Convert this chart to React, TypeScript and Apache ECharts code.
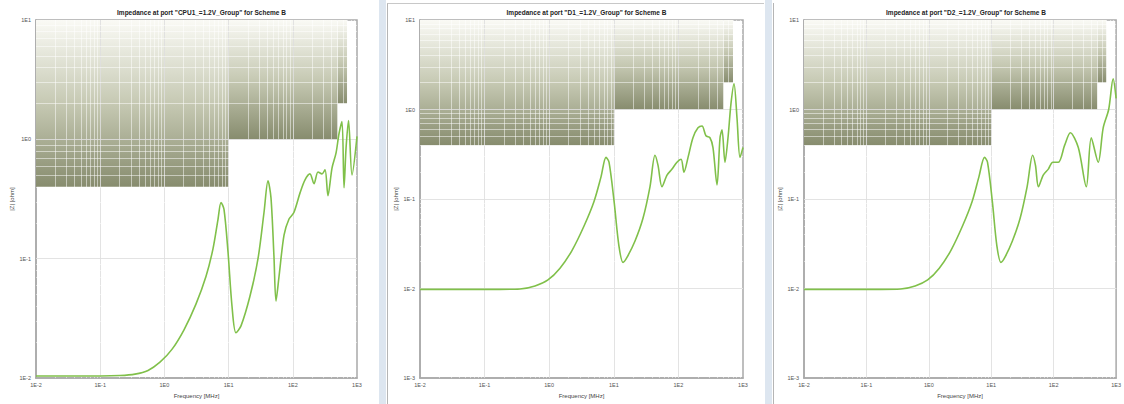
import React, { useEffect, useRef } from 'react';
import * as echarts from 'echarts';

const titles = [
  'Impedance at port "CPU1_=1.2V_Group" for Scheme B',
  'Impedance at port "D1_=1.2V_Group" for Scheme B',
  'Impedance at port "D2_=1.2V_Group" for Scheme B',
];
const xAxisName = 'Frequency [MHz]';
const yAxisName = '|Z| [ohm]';
const xTickLabels = ['1E-2', '1E-1', '1E0', '1E1', '1E2', '1E3'];
const yTickLabels = ['1E-3', '1E-2', '1E-1', '1E0', '1E1'];
const yMins = [0.01, 0.001, 0.001];

// target impedance mask (steps)
const maskFreqs = [0.01, 10, 500, 700];
const maskZ = [0.4, 1, 2];

// panel 1
const freq1 = [0.01, 0.1, 0.203, 0.348, 0.556, 0.853, 1.31, 2.02, 3.1, 4.44, 5.71, 6.84, 7.62, 8.48, 9.79, 11.3, 13.0, 15.6, 21.5, 28.7, 35.6, 41.1, 45.7, 50.9, 54.7, 61, 73, 87, 104, 130, 155, 185, 214, 247, 285, 318, 353, 408, 471, 525, 584, 628, 675, 738, 836, 1000];
const z1 = [0.0104, 0.0104, 0.0105, 0.0108, 0.0116, 0.0136, 0.0174, 0.0254, 0.0417, 0.071, 0.121, 0.214, 0.296, 0.259, 0.114, 0.04, 0.024, 0.0274, 0.0485, 0.1, 0.244, 0.45, 0.325, 0.104, 0.0442, 0.071, 0.158, 0.214, 0.244, 0.358, 0.458, 0.514, 0.425, 0.533, 0.514, 0.555, 0.338, 0.575, 0.766, 1.12, 1.41, 0.393, 0.843, 1.44, 0.503, 1.06];

// panel 2
const freq2 = [0.01, 0.173, 0.353, 0.603, 0.957, 1.47, 2.25, 3.46, 4.94, 6.34, 7.57, 8.43, 10.1, 12.0, 13.9, 16, 21.3, 28.3, 36.3, 43.4, 48.3, 55.7, 66.6, 79.7, 95, 110, 122, 141, 168, 201, 232, 267, 308, 343, 396, 441, 473, 526, 586, 652, 726, 808, 899, 1000];
const z2 = [0.0098, 0.0098, 0.0099, 0.0107, 0.0125, 0.0169, 0.0266, 0.05, 0.094, 0.177, 0.292, 0.258, 0.094, 0.03, 0.0196, 0.0223, 0.034, 0.061, 0.137, 0.308, 0.239, 0.137, 0.185, 0.216, 0.258, 0.278, 0.2, 0.292, 0.484, 0.624, 0.655, 0.509, 0.484, 0.376, 0.144, 0.484, 0.593, 0.258, 0.484, 1.17, 1.94, 0.8, 0.292, 0.376];

// panel 3
const freq3 = [0.01, 0.173, 0.353, 0.603, 0.957, 1.47, 2.25, 3.46, 4.94, 6.34, 7.8, 8.7, 10.4, 12.3, 14.3, 16.5, 21.8, 29, 37.5, 46, 51, 57, 68, 82, 97, 119, 150, 185, 248, 333, 400, 517, 621, 760, 896, 1000];
const z3 = [0.0098, 0.0098, 0.0099, 0.0107, 0.0125, 0.0169, 0.0266, 0.05, 0.094, 0.177, 0.292, 0.258, 0.094, 0.03, 0.0196, 0.0223, 0.034, 0.061, 0.137, 0.308, 0.239, 0.137, 0.185, 0.216, 0.258, 0.258, 0.4, 0.55, 0.376, 0.137, 0.484, 0.258, 0.624, 1.0, 2.2, 1.33];

const curves = [
  { f: freq1, z: z1 },
  { f: freq2, z: z2 },
  { f: freq3, z: z3 },
];

const mantissas = [1, 2, 3, 4, 5, 6, 7, 8, 9];
const xDecades = [-2, -1, 0, 1, 2];
const yDecades = [-3, -2, -1, 0];

const grids = [
  { left: 36, top: 20, width: 321, height: 363 },
  { left: 420, top: 20, width: 323, height: 365 },
  { left: 804, top: 20, width: 314, height: 365 },
];

export default function App() {
  const ref = useRef<HTMLDivElement>(null);
  useEffect(() => {
    if (!ref.current) return;
    const chart = echarts.init(ref.current, undefined, { renderer: 'svg' });
    const font = 'Liberation Sans, Arial, sans-serif';
    const lbl = (arr: string[], offset: number) => (v: number) => {
      const e = Math.round(Math.log10(v));
      return arr[e + offset] ?? '';
    };
    const minorStyle = { color: 'rgba(255,255,255,0.5)', type: 'solid', width: 1 };
    const majorStyle = { color: 'rgba(222,222,222,0.85)', type: 'solid', width: 1 };
    const series: any[] = [];
    grids.forEach((_, g) => {
      const yMin = yMins[g];
      const lines: any[] = [];
      xDecades.forEach((d) =>
        mantissas.forEach((m) => {
          const v = m * Math.pow(10, d);
          if (v > 0.01 * 1.001) lines.push({ xAxis: v, lineStyle: m === 1 ? majorStyle : minorStyle });
        })
      );
      yDecades.forEach((d) =>
        mantissas.forEach((m) => {
          const v = m * Math.pow(10, d);
          if (v > yMin * 1.001 && v < 10) lines.push({ yAxis: v, lineStyle: m === 1 ? majorStyle : minorStyle });
        })
      );
      for (let s = 0; s < maskZ.length; s++) {
        series.push({
          type: 'line',
          xAxisIndex: g,
          yAxisIndex: g,
          silent: true,
          symbol: 'none',
          z: 1,
          data: [
            [maskFreqs[s], maskZ[s]],
            [maskFreqs[s + 1], maskZ[s]],
          ],
          lineStyle: { width: 0, opacity: 0 },
          areaStyle: {
            origin: 'end',
            opacity: 1,
            color: new echarts.graphic.LinearGradient(0, 0, 0, 1, [
              { offset: 0, color: '#fafaf5' },
              { offset: 0.5, color: '#c6c9b3' },
              { offset: 1, color: '#878c6e' },
            ]),
          },
          markLine:
            s === 0
              ? {
                  silent: true,
                  symbol: ['none', 'none'],
                  label: { show: false },
                  z: 3,
                  data: lines,
                }
              : undefined,
        });
      }
      series.push({
        type: 'line',
        xAxisIndex: g,
        yAxisIndex: g,
        symbol: 'none',
        smooth: 0.3,
        z: 10,
        data: curves[g].f.map((f, i) => [f, curves[g].z[i]]),
        lineStyle: { color: '#80c04a', width: 1.6 },
      });
    });

    chart.setOption({
      animation: false,
      backgroundColor: '#ffffff',
      title: titles.map((t, i) => ({
        text: t,
        left: grids[i].left + grids[i].width / 2,
        textAlign: 'center',
        top: 4,
        textStyle: { fontSize: 6.5, fontWeight: 'bold', color: '#222', fontFamily: font },
      })),
      grid: grids.map((g) => ({
        ...g,
        show: true,
        borderColor: '#a9a9a9',
        borderWidth: 1.5,
        backgroundColor: '#ffffff',
        containLabel: false,
      })),
      xAxis: grids.map((_, i) => ({
        type: 'log',
        logBase: 10,
        gridIndex: i,
        min: 0.01,
        max: 1000,
        name: xAxisName,
        nameLocation: 'middle',
        nameGap: 13,
        nameTextStyle: { fontSize: 6, color: '#444', fontFamily: font },
        axisLine: { show: true, lineStyle: { color: '#a9a9a9', width: 1.5 } },
        axisTick: { show: false },
        splitLine: { show: false },
        axisLabel: { fontSize: 5.5, color: '#555', margin: 4, fontFamily: font, formatter: lbl(xTickLabels, 2) },
      })),
      yAxis: grids.map((_, i) => ({
        type: 'log',
        logBase: 10,
        gridIndex: i,
        min: yMins[i],
        max: 10,
        name: yAxisName,
        nameLocation: 'middle',
        nameGap: 20,
        nameTextStyle: { fontSize: 6, color: '#444', fontFamily: font },
        axisLine: { show: true, lineStyle: { color: '#a9a9a9', width: 1.5 } },
        axisTick: { show: false },
        splitLine: { show: false },
        axisLabel: { fontSize: 5.5, color: '#555', margin: 5, fontFamily: font, formatter: lbl(yTickLabels, 3) },
      })),
      graphic: [
        { type: 'rect', shape: { x: 379, y: 0, width: 7, height: 404 }, style: { fill: '#dde6f0' }, silent: true },
        { type: 'line', shape: { x1: 387.5, y1: 3, x2: 387.5, y2: 404 }, style: { stroke: '#b5b5b5', lineWidth: 1 }, silent: true },
        { type: 'line', shape: { x1: 387.5, y1: 3.5, x2: 764, y2: 3.5 }, style: { stroke: '#c8c8c8', lineWidth: 1 }, silent: true },
        { type: 'rect', shape: { x: 765, y: 0, width: 7, height: 404 }, style: { fill: '#dde6f0' }, silent: true },
        { type: 'line', shape: { x1: 773.5, y1: 3, x2: 773.5, y2: 404 }, style: { stroke: '#b5b5b5', lineWidth: 1 }, silent: true },
      ],
      series,
    });
    return () => chart.dispose();
  }, []);
  return <div ref={ref} style={{ position: 'fixed', left: 0, top: 0, width: 1124, height: 404 }} />;
}
